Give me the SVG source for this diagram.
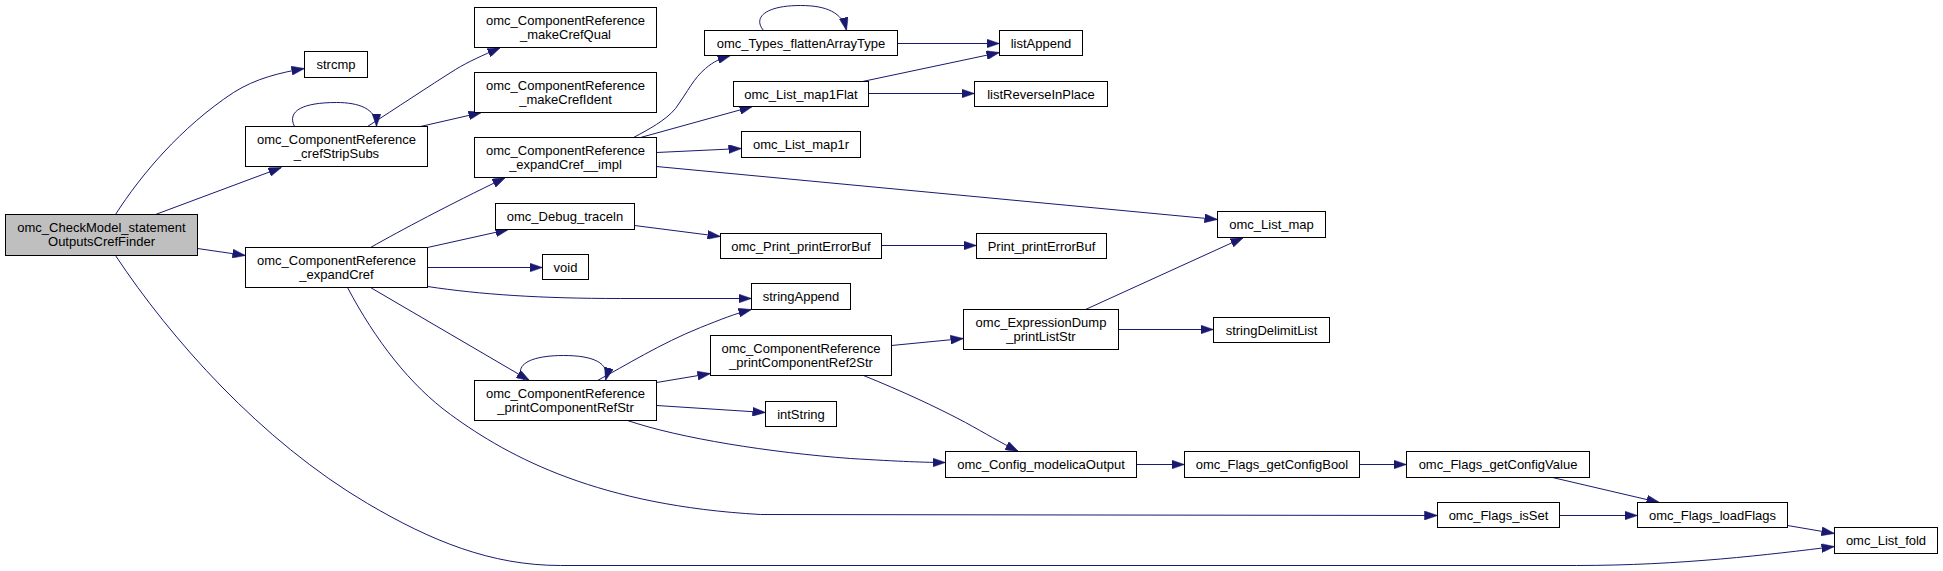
<svg xmlns="http://www.w3.org/2000/svg" width="1943" height="571" viewBox="0 0 1943 571">
<style>
.n rect{fill:#fff;stroke:#000;stroke-width:1}
.n.main rect{fill:#bfbfbf}
.n text{font-family:"Liberation Sans",Arial,sans-serif;font-size:13px;fill:#000;text-anchor:middle}
.e path{fill:none;stroke:#191970;stroke-width:1;marker-end:url(#ah)}
</style>
<defs>
<marker id="ah" markerUnits="userSpaceOnUse" viewBox="0 0 13 9" markerWidth="13" markerHeight="9" refX="13" refY="4.5" orient="auto">
<path d="M0,0 L13,4.5 L0,9 z" fill="#191970" stroke="#191970" stroke-width="0.5"/>
</marker>
</defs>
<rect x="0" y="0" width="1943" height="571" fill="#fff"/>
<g transform="translate(0.5,0.5)">
<g id="edges" class="e">
<path d="M115,214 C140,175 180,127 233,92 C255,78 280,72 304,68"/>
<path d="M155,214 L281,167"/>
<path d="M197,248 L245,255"/>
<path d="M115,255 C170,338 260,440 367,503 C430,540 490,565 560,565 L1576,565 C1680,565 1770,554 1834,546"/>
<path d="M294,126 C286,110 303,102 336,102 C358,102 376,108 376,126"/>
<path d="M367,126 C395,108 428,86 455,69 C468,61 482,55 500,47"/>
<path d="M420,126 L481,112"/>
<path d="M370,247 C402,229 445,206 505,177"/>
<path d="M427,247 L508,229"/>
<path d="M427,267 L542,267"/>
<path d="M427,286 C480,294 540,298 620,298 L751,298"/>
<path d="M370,287 L529,380"/>
<path d="M347,287 C375,340 410,385 450,414 C510,458 600,505 760,514 L1437,515"/>
<path d="M633,137 C648,129 665,120 675,108 C688,90 693,78 705,68 C713,61 720,58 730,55"/>
<path d="M640,137 L752,106"/>
<path d="M656,152 L741,148"/>
<path d="M656,166 L1217,219"/>
<path d="M763,30 C752,17 765,5 800,5 C826,5 842,12 846,30"/>
<path d="M897,43 L999,43"/>
<path d="M862,81 L999,52"/>
<path d="M868,93 L974,93"/>
<path d="M634,225 L720,236"/>
<path d="M881,245 L976,245"/>
<path d="M524,380 C512,366 527,355 563,355 C592,355 610,362 605,380"/>
<path d="M597,380 C625,365 660,343 700,327 C720,319 735,313 751,309"/>
<path d="M656,382 L710,373"/>
<path d="M656,405 L765,412"/>
<path d="M627,420 C680,438 770,452 850,458 C900,461 925,462 945,462"/>
<path d="M891,345 L963,338"/>
<path d="M863,375 C900,390 935,406 965,422 C985,433 1000,442 1018,451"/>
<path d="M1085,309 L1243,237"/>
<path d="M1118,329 L1213,329"/>
<path d="M1136,464 L1184,464"/>
<path d="M1359,464 L1406,464"/>
<path d="M1552,477 L1659,502"/>
<path d="M1559,515 L1637,515"/>
<path d="M1787,525 L1834,533"/>
</g>
<g id="n0" class="n main"><rect x="5" y="214" width="192" height="41"/><text x="101" y="231">omc_CheckModel_statement</text><text x="101" y="245">OutputsCrefFinder</text></g>
<g id="n1" class="n"><rect x="304" y="51" width="63" height="26"/><text x="335.5" y="68">strcmp</text></g>
<g id="n2" class="n"><rect x="245" y="126" width="182" height="40"/><text x="336" y="143">omc_ComponentReference</text><text x="336" y="157">_crefStripSubs</text></g>
<g id="n3" class="n"><rect x="245" y="247" width="182" height="40"/><text x="336" y="264">omc_ComponentReference</text><text x="336" y="278">_expandCref</text></g>
<g id="n4" class="n"><rect x="474" y="7" width="182" height="40"/><text x="565" y="24">omc_ComponentReference</text><text x="565" y="38">_makeCrefQual</text></g>
<g id="n5" class="n"><rect x="474" y="72" width="182" height="40"/><text x="565" y="89">omc_ComponentReference</text><text x="565" y="103">_makeCrefIdent</text></g>
<g id="n6" class="n"><rect x="474" y="137" width="182" height="40"/><text x="565" y="154">omc_ComponentReference</text><text x="565" y="168">_expandCref__impl</text></g>
<g id="n7" class="n"><rect x="495" y="203" width="139" height="26"/><text x="564.5" y="220">omc_Debug_traceln</text></g>
<g id="n8" class="n"><rect x="542" y="254" width="46" height="25"/><text x="565" y="271">void</text></g>
<g id="n9" class="n"><rect x="474" y="380" width="182" height="40"/><text x="565" y="397">omc_ComponentReference</text><text x="565" y="411">_printComponentRefStr</text></g>
<g id="n10" class="n"><rect x="704" y="30" width="193" height="25"/><text x="800.5" y="47">omc_Types_flattenArrayType</text></g>
<g id="n11" class="n"><rect x="733" y="81" width="135" height="25"/><text x="800.5" y="98">omc_List_map1Flat</text></g>
<g id="n12" class="n"><rect x="741" y="131" width="119" height="26"/><text x="800.5" y="148">omc_List_map1r</text></g>
<g id="n13" class="n"><rect x="720" y="233" width="161" height="25"/><text x="800.5" y="250">omc_Print_printErrorBuf</text></g>
<g id="n14" class="n"><rect x="751" y="283" width="99" height="26"/><text x="800.5" y="300">stringAppend</text></g>
<g id="n15" class="n"><rect x="710" y="335" width="181" height="40"/><text x="800.5" y="352">omc_ComponentReference</text><text x="800.5" y="366">_printComponentRef2Str</text></g>
<g id="n16" class="n"><rect x="765" y="401" width="71" height="25"/><text x="800.5" y="418">intString</text></g>
<g id="n17" class="n"><rect x="999" y="30" width="83" height="25"/><text x="1040.5" y="47">listAppend</text></g>
<g id="n18" class="n"><rect x="974" y="81" width="133" height="25"/><text x="1040.5" y="98">listReverseInPlace</text></g>
<g id="n19" class="n"><rect x="976" y="233" width="130" height="25"/><text x="1041" y="250">Print_printErrorBuf</text></g>
<g id="n20" class="n"><rect x="963" y="309" width="155" height="40"/><text x="1040.5" y="326">omc_ExpressionDump</text><text x="1040.5" y="340">_printListStr</text></g>
<g id="n21" class="n"><rect x="945" y="451" width="191" height="26"/><text x="1040.5" y="468">omc_Config_modelicaOutput</text></g>
<g id="n22" class="n"><rect x="1217" y="211" width="108" height="26"/><text x="1271" y="228">omc_List_map</text></g>
<g id="n23" class="n"><rect x="1213" y="317" width="116" height="25"/><text x="1271" y="334">stringDelimitList</text></g>
<g id="n24" class="n"><rect x="1184" y="451" width="175" height="26"/><text x="1271.5" y="468">omc_Flags_getConfigBool</text></g>
<g id="n25" class="n"><rect x="1406" y="451" width="183" height="26"/><text x="1497.5" y="468">omc_Flags_getConfigValue</text></g>
<g id="n26" class="n"><rect x="1437" y="502" width="122" height="25"/><text x="1498" y="519">omc_Flags_isSet</text></g>
<g id="n27" class="n"><rect x="1637" y="502" width="150" height="25"/><text x="1712" y="519">omc_Flags_loadFlags</text></g>
<g id="n28" class="n"><rect x="1834" y="527" width="103" height="26"/><text x="1885.5" y="544">omc_List_fold</text></g>
</g>
</svg>
